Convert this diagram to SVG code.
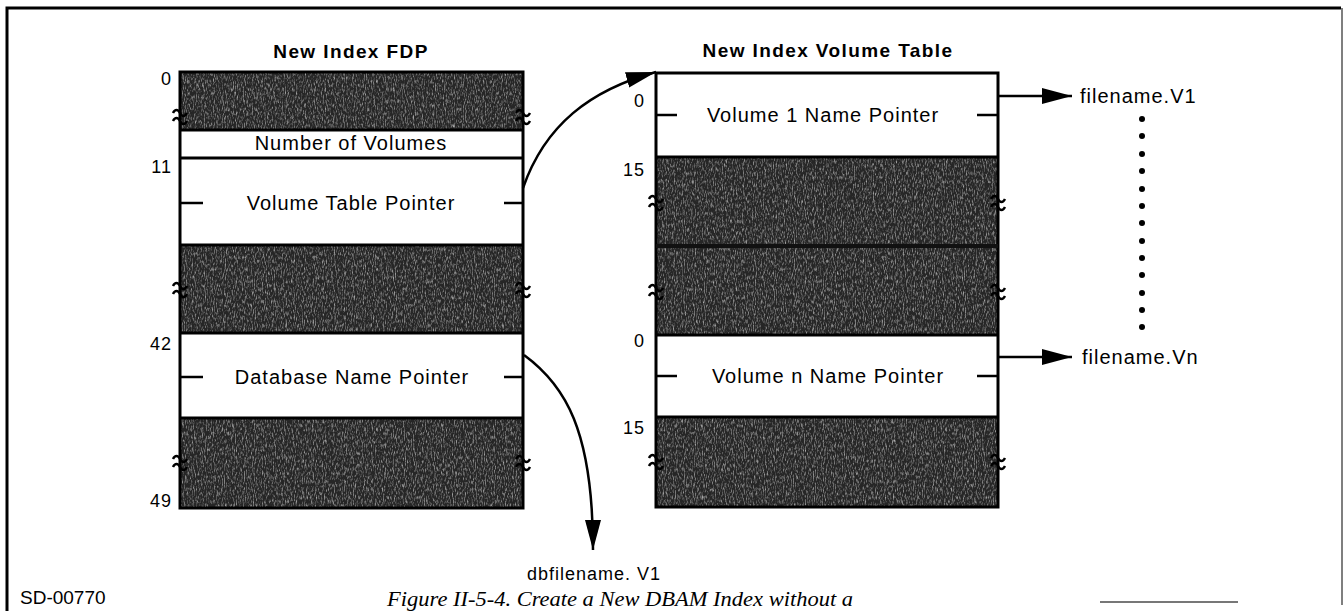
<svg xmlns="http://www.w3.org/2000/svg" width="1344" height="611" viewBox="0 0 1344 611">
<style>
.t{font-family:"Liberation Sans",Arial,sans-serif;font-size:20px;letter-spacing:1px;fill:#000}
.h{font-family:"Liberation Sans",Arial,sans-serif;font-size:19px;font-weight:bold;letter-spacing:1.4px;fill:#000}
.n{font-family:"Liberation Sans",Arial,sans-serif;font-size:18px;letter-spacing:1px;fill:#000}
.m{text-anchor:middle}
.e{text-anchor:end}
.dark{fill:#262626}
.grain{fill:#000;filter:url(#grain)}
.white{fill:#fff}
.box{fill:none;stroke:#000;stroke-width:3}
.sep{stroke:#000;stroke-width:3}
.tick{stroke:#000;stroke-width:2.5}
.sq{fill:none;stroke:#000;stroke-width:2.5}
.conn{fill:none;stroke:#000;stroke-width:2.5}
</style>
<defs>
<filter id="grain" x="0" y="0" width="100%" height="100%">
<feTurbulence type="fractalNoise" baseFrequency="0.9 0.25" numOctaves="3" seed="4" result="n"/>
<feColorMatrix in="n" type="matrix" values="0 0 0 0 0.6  0 0 0 0 0.6  0 0 0 0 0.6  1.8 0 0 0 -0.82" result="g"/>
<feComposite in="g" in2="SourceGraphic" operator="in"/>
</filter>
<marker id="ah" markerWidth="30" markerHeight="16" refX="30" refY="8" orient="auto" markerUnits="userSpaceOnUse">
<path d="M0,0 L30,8 L0,16 z" fill="#000"/>
</marker>
</defs>

<g id="frame">
<path d="M7,611 V8 H1341" fill="none" stroke="#000" stroke-width="3"/>
<path d="M1342,8 V605" fill="none" stroke="#555" stroke-width="1.5"/>
<line x1="1100" y1="602" x2="1238" y2="602" stroke="#777" stroke-width="2"/>
</g>

<g id="fdp">
<text class="h m" x="351" y="58">New Index FDP</text>
<rect class="dark" x="180" y="72" width="343" height="58"/>
<rect class="grain" x="180" y="72" width="343" height="58"/>
<rect class="white" x="180" y="130" width="343" height="115"/>
<rect class="dark" x="180" y="245" width="343" height="88"/>
<rect class="grain" x="180" y="245" width="343" height="88"/>
<rect class="white" x="180" y="333" width="343" height="85"/>
<rect class="dark" x="180" y="418" width="343" height="90"/>
<rect class="grain" x="180" y="418" width="343" height="90"/>
<rect class="box" x="180" y="72" width="343" height="436"/>
<line class="sep" x1="180" y1="130" x2="523" y2="130"/>
<line class="sep" x1="180" y1="158" x2="523" y2="158"/>
<line class="sep" x1="180" y1="245" x2="523" y2="245"/>
<line class="sep" x1="180" y1="333" x2="523" y2="333"/>
<line class="sep" x1="180" y1="418" x2="523" y2="418"/>
<text class="t m" x="351" y="150">Number of Volumes</text>
<text class="t m" x="351" y="210">Volume Table Pointer</text>
<text class="t m" x="352" y="384">Database Name Pointer</text>
<line class="tick" x1="180" y1="203" x2="203" y2="203"/>
<line class="tick" x1="504" y1="203" x2="523" y2="203"/>
<line class="tick" x1="180" y1="377" x2="203" y2="377"/>
<line class="tick" x1="504" y1="377" x2="523" y2="377"/>
<text class="n e" x="172" y="85">0</text>
<text class="n e" x="172" y="173">11</text>
<text class="n e" x="172" y="350">42</text>
<text class="n e" x="172" y="507">49</text>
<path class="sq" d="M173,113 c2,-4 5,-4 7,0 s5,4 7,0 M173,121 c2,-4 5,-4 7,0 s5,4 7,0"/>
<path class="sq" d="M516,113 c2,-4 5,-4 7,0 s5,4 7,0 M516,121 c2,-4 5,-4 7,0 s5,4 7,0"/>
<path class="sq" d="M173,286 c2,-4 5,-4 7,0 s5,4 7,0 M173,294 c2,-4 5,-4 7,0 s5,4 7,0"/>
<path class="sq" d="M516,286 c2,-4 5,-4 7,0 s5,4 7,0 M516,294 c2,-4 5,-4 7,0 s5,4 7,0"/>
<path class="sq" d="M173,459 c2,-4 5,-4 7,0 s5,4 7,0 M173,467 c2,-4 5,-4 7,0 s5,4 7,0"/>
<path class="sq" d="M516,459 c2,-4 5,-4 7,0 s5,4 7,0 M516,467 c2,-4 5,-4 7,0 s5,4 7,0"/>
</g>

<g id="volume-table">
<text class="h m" x="828" y="57">New Index Volume Table</text>
<rect class="white" x="656" y="73" width="342" height="84"/>
<rect class="dark" x="656" y="157" width="342" height="178"/>
<rect class="grain" x="656" y="157" width="342" height="178"/>
<rect class="white" x="656" y="335" width="342" height="82"/>
<rect class="dark" x="656" y="417" width="342" height="90"/>
<rect class="grain" x="656" y="417" width="342" height="90"/>
<rect class="box" x="656" y="73" width="342" height="434"/>
<line class="sep" x1="656" y1="157" x2="998" y2="157"/>
<line x1="656" y1="246" x2="998" y2="246" stroke="#111" stroke-width="4"/>
<line class="sep" x1="656" y1="335" x2="998" y2="335"/>
<line class="sep" x1="656" y1="417" x2="998" y2="417"/>
<text class="t m" x="823" y="122">Volume 1 Name Pointer</text>
<text class="t m" x="828" y="383">Volume n Name Pointer</text>
<line class="tick" x1="656" y1="115" x2="677" y2="115"/>
<line class="tick" x1="977" y1="115" x2="998" y2="115"/>
<line class="tick" x1="656" y1="376" x2="677" y2="376"/>
<line class="tick" x1="977" y1="376" x2="998" y2="376"/>
<text class="n e" x="645" y="107">0</text>
<text class="n e" x="645" y="176">15</text>
<text class="n e" x="645" y="347">0</text>
<text class="n e" x="645" y="434">15</text>
<path class="sq" d="M649,199 c2,-4 5,-4 7,0 s5,4 7,0 M649,207 c2,-4 5,-4 7,0 s5,4 7,0"/>
<path class="sq" d="M991,199 c2,-4 5,-4 7,0 s5,4 7,0 M991,207 c2,-4 5,-4 7,0 s5,4 7,0"/>
<path class="sq" d="M649,288 c2,-4 5,-4 7,0 s5,4 7,0 M649,296 c2,-4 5,-4 7,0 s5,4 7,0"/>
<path class="sq" d="M991,288 c2,-4 5,-4 7,0 s5,4 7,0 M991,296 c2,-4 5,-4 7,0 s5,4 7,0"/>
<path class="sq" d="M649,458 c2,-4 5,-4 7,0 s5,4 7,0 M649,466 c2,-4 5,-4 7,0 s5,4 7,0"/>
<path class="sq" d="M991,458 c2,-4 5,-4 7,0 s5,4 7,0 M991,466 c2,-4 5,-4 7,0 s5,4 7,0"/>
</g>

<g id="filename-v1">
<text class="t" x="1080" y="103">filename.V1</text>
</g>
<g id="filename-vn">
<text class="t" x="1082" y="364">filename.Vn</text>
</g>
<g id="dbfilename">
<text class="n m" x="594" y="580">dbfilename. V1</text>
</g>
<g id="ellipsis" fill="#000">
<circle cx="1142" cy="119" r="3"/>
<circle cx="1142" cy="136" r="3"/>
<circle cx="1142" cy="154" r="3"/>
<circle cx="1142" cy="171" r="3"/>
<circle cx="1142" cy="189" r="3"/>
<circle cx="1142" cy="206" r="3"/>
<circle cx="1142" cy="223" r="3"/>
<circle cx="1142" cy="241" r="3"/>
<circle cx="1142" cy="258" r="3"/>
<circle cx="1142" cy="275" r="3"/>
<circle cx="1142" cy="293" r="3"/>
<circle cx="1142" cy="310" r="3"/>
<circle cx="1142" cy="327" r="3"/>
</g>

<g id="connectors">
<path class="conn" d="M523,188 C545,125 590,90 656,72" marker-end="url(#ah)"/>
<path class="conn" d="M524,355 C565,385 593,430 593,550" marker-end="url(#ah)"/>
<path class="conn" d="M998,96 H1072" marker-end="url(#ah)"/>
<path class="conn" d="M998,357 H1072" marker-end="url(#ah)"/>
</g>

<g id="captions">
<text x="20" y="604" style="font-family:'Liberation Sans',Arial,sans-serif;font-size:19px">SD-00770</text>
<text x="387" y="606" textLength="466" lengthAdjust="spacingAndGlyphs" style="font-family:'Liberation Serif','Times New Roman',serif;font-size:21px;font-style:italic">Figure II-5-4. Create a New DBAM Index without a</text>
</g>
</svg>
